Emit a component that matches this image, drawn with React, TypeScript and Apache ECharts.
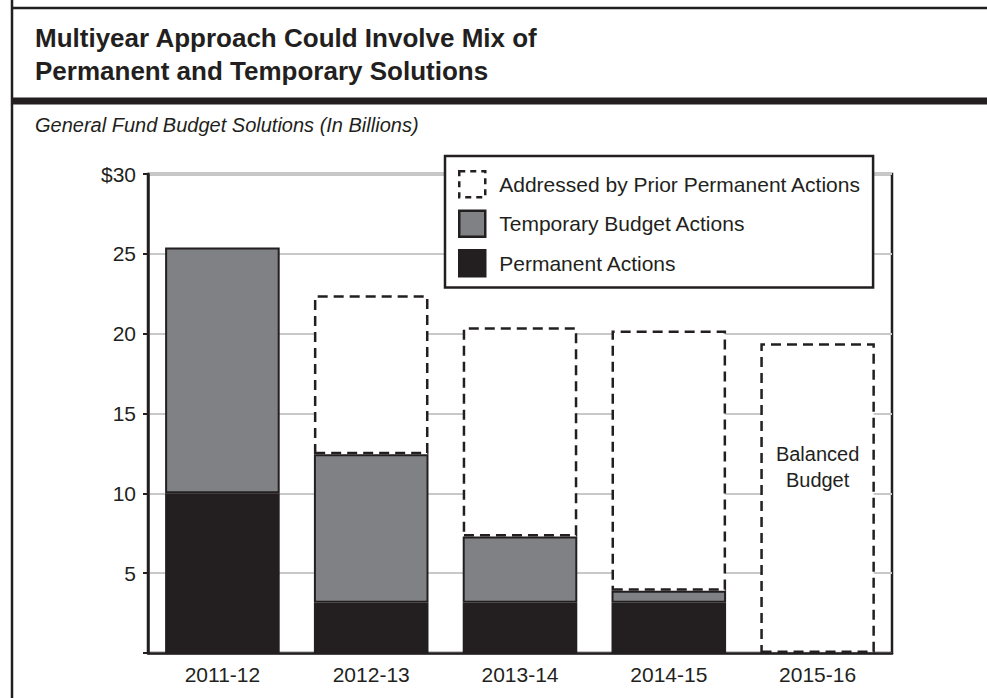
import React, { useEffect, useRef } from "react";
import * as echarts from "echarts";

const categories = ["2011-12", "2012-13", "2013-14", "2014-15", "2015-16"];
const permanentActions = [10, 3.15, 3.15, 3.15, null];
const temporaryActions = [15.4, 9.3, 4.15, 0.75, null];
const priorPermanent = [null, 9.95, 13.1, 16.3, 19.4];
const yTicks = { min: 0, max: 30, interval: 5 };
const seriesNames = [
  "Addressed by Prior Permanent Actions",
  "Temporary Budget Actions",
  "Permanent Actions",
];
const titleText = "Multiyear Approach Could Involve Mix of\nPermanent and Temporary Solutions";
const subtitleText = "General Fund Budget Solutions (In Billions)";
const balancedNote = "Balanced\nBudget";

const FONT = '"Liberation Sans", Arial, Helvetica, sans-serif';
const INK = "#231f20";
const GRAY = "#808184";

export default function App() {
  const ref = useRef<HTMLDivElement>(null);
  useEffect(() => {
    if (!ref.current) return;
    const chart = echarts.init(ref.current, undefined, { renderer: "svg" });
    const dashed = {
      color: "#ffffff",
      borderColor: INK,
      borderWidth: 2.5,
      borderType: [10, 6] as any,
    };
    const option: any = {
      animation: false,
      backgroundColor: "#ffffff",
      textStyle: { fontFamily: FONT, color: INK },
      title: [
        {
          text: titleText,
          left: 30,
          top: 16,
          textStyle: {
            fontFamily: FONT,
            fontSize: 26,
            fontWeight: "bold",
            color: INK,
            lineHeight: 33.5,
          },
        },
        {
          text: subtitleText,
          left: 30,
          top: 110,
          textStyle: {
            fontFamily: FONT,
            fontSize: 20,
            lineHeight: 20,
            fontStyle: "italic",
            fontWeight: "normal",
            color: INK,
          },
        },
      ],
      graphic: [
        {
          type: "line",
          shape: { x1: 12, y1: 0, x2: 12, y2: 698 },
          style: { stroke: INK, lineWidth: 2.5 },
          silent: true,
        },
        {
          type: "line",
          shape: { x1: 12, y1: 8, x2: 987, y2: 8 },
          style: { stroke: INK, lineWidth: 2.5 },
          silent: true,
        },
        {
          type: "line",
          shape: { x1: 12, y1: 101, x2: 987, y2: 101 },
          style: { stroke: INK, lineWidth: 7 },
          silent: true,
        },
      ],
      legend: {
        orient: "vertical",
        left: 445,
        top: 156,
        padding: [14, 12, 10, 13],
        itemWidth: 26,
        itemHeight: 26,
        itemGap: 11,
        icon: "rect",
        backgroundColor: "#ffffff",
        borderColor: INK,
        borderWidth: 2.5,
        textStyle: { fontFamily: FONT, fontSize: 21, color: INK, padding: [0, 0, 0, 9] },
        selectedMode: false,
        data: [
          { name: seriesNames[0], itemStyle: { ...dashed, borderType: [6, 5] } },
          { name: seriesNames[1], itemStyle: { color: GRAY, borderColor: INK, borderWidth: 2.5 } },
          { name: seriesNames[2], itemStyle: { color: INK, borderColor: INK, borderWidth: 2.5 } },
        ],
      },
      grid: {
        left: 148,
        top: 174,
        right: 95,
        bottom: 45,
        show: true,
        borderColor: INK,
        borderWidth: 2.5,
        containLabel: false,
      },
      xAxis: {
        type: "category",
        data: categories,
        axisLine: { show: true, lineStyle: { color: INK, width: 2.5 } },
        axisTick: { show: false },
        axisLabel: { fontFamily: FONT, fontSize: 21, color: INK, margin: 11 },
      },
      yAxis: {
        type: "value",
        min: yTicks.min,
        max: yTicks.max,
        interval: yTicks.interval,
        axisLine: { show: true, lineStyle: { color: INK, width: 2.5 } },
        axisTick: { show: true, length: 5, lineStyle: { color: INK, width: 2 } },
        splitLine: { show: true, lineStyle: { color: "#c8c8c8", width: 2 } },
        axisLabel: {
          fontFamily: FONT,
          fontSize: 21,
          color: INK,
          margin: 12,
          formatter: (v: number) => (v === 0 ? "" : v === 30 ? "$30" : String(v)),
        },
      },
      series: [
        {
          name: seriesNames[2],
          type: "bar",
          stack: "total",
          barWidth: "77%",
          data: permanentActions,
          itemStyle: { color: INK, borderColor: INK, borderWidth: 2 },
        },
        {
          name: seriesNames[1],
          type: "bar",
          stack: "total",
          barWidth: "77%",
          data: temporaryActions,
          itemStyle: { color: GRAY, borderColor: INK, borderWidth: 2 },
        },
        {
          name: seriesNames[0],
          type: "bar",
          stack: "total",
          barWidth: "77%",
          data: priorPermanent.map((v, i) =>
            i === categories.length - 1
              ? {
                  value: v,
                  label: {
                    show: true,
                    position: ["50%", "40%"],
                    align: "center",
                    verticalAlign: "middle",
                    formatter: balancedNote,
                    fontFamily: FONT,
                    fontSize: 20,
                    lineHeight: 26,
                    color: INK,
                  },
                }
              : v
          ),
          itemStyle: dashed,
        },
      ],
    };
    chart.setOption(option);
    return () => chart.dispose();
  }, []);
  return (
    <div
      ref={ref}
      style={{ position: "fixed", left: 0, top: 0, width: 987, height: 698 }}
    />
  );
}
